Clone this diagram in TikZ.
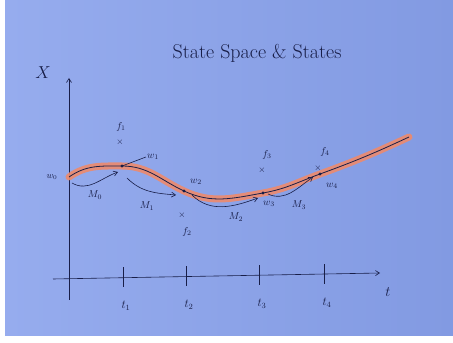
\documentclass[tikz,border=0pt]{standalone}
\usepackage{tikz}
\usetikzlibrary{arrows.meta}
\usepackage{amsmath, amsfonts}
\definecolor{paperL}{RGB}{150,172,238}
\definecolor{paperR}{RGB}{130,154,226}
\definecolor{ink}{RGB}{24,30,72}
\definecolor{glow}{RGB}{238,138,108}
\begin{document}
\begin{tikzpicture}[x=1pt, y=1pt,
    ink/.style = {draw=ink, line width=0.6pt},
    marrow/.style = {ink, -{Straight Barb[length=4pt,width=5pt]}},
    band/.style = {glow, line width=7pt, line cap=round, opacity=0.9},
    trace/.style = {ink, line width=0.8pt},
    lbl/.style = {text=ink, inner sep=1pt, font=\normalsize},
    cross/.style = {text=ink, inner sep=0pt, font=\small},
    dot/.style = {circle, fill=ink, inner sep=1.1pt}]
            % paper
            \fill[white] (0,0) rectangle (453,343);
            \shade[left color=paperL, right color=paperR] (5,7) rectangle (453,343);
            \useasboundingbox (0,0) rectangle (453,343);

            \node[text=ink, font=\fontsize{20}{24}\selectfont] (title) at (257,290) {State Space \& States};

            % axes
            \coordinate (ytop) at (69,265);
            \coordinate (ybot) at (69,43);
            \coordinate (xleft) at (53,64);
            \coordinate (xright) at (380,70);
            \draw[marrow] (ybot) -- (ytop);
            \draw[marrow] (xleft) -- (xright);
            \node[text=ink, font=\LARGE] (X) at (43,270) {$X$};
            \node[text=ink, font=\Large] (t) at (388,51) {$t$};

            % ticks
            \foreach \n/\x/\y in {1/123/67, 2/186/68, 3/259/69, 4/324/70} {
                \draw[ink] (\x,\y-11) -- (\x,\y+9);
                \node[lbl, font=\large] (t\n) at (\x+3,\y-30) {$t_\n$};
            }

            % states
            \coordinate (w0) at (69,166);
            \coordinate (w1) at (122,177);
            \coordinate (w2) at (184,152);
            \coordinate (w3) at (263,150);
            \coordinate (w4) at (320,169);
            \coordinate (e) at (409,206);

            \foreach \sty in {band, trace}
                \draw[\sty] (w0) to[out=35, in=180] (w1) to[out=0, in=155] (w2)
                    to[out=-25, in=190] (w3) to[out=10, in=200] (w4) to[out=20, in=205] (e);
            \foreach \p in {w1, w2, w3, w4} \node[dot] at (\p) {};

            \node[lbl, font=\small] (lw0) at (52,166) {$w_0$};
            \node[lbl] (lw1) at (153,186) {$w_1$};
            \draw[ink] (w1) -- (lw1.west);
            \node[lbl] (lw2) at (196,161) {$w_2$};
            \node[lbl] (lw3) at (269,139) {$w_3$};
            \node[lbl] (lw4) at (332,157) {$w_4$};

            % measurements
            \node[lbl] (f1) at (121,216) {$f_1$};
            \node[cross] (x1) at (120,201) {$\times$};
            \node[cross] (x2) at (182,128) {$\times$};
            \node[lbl] (f2) at (187,111) {$f_2$};
            \node[lbl] (f3) at (267,188) {$f_3$};
            \node[cross] (x3) at (262,173) {$\times$};
            \node[lbl] (f4) at (325,191) {$f_4$};
            \node[cross] (x4) at (318,175) {$\times$};

            % transitions
            \coordinate (m0s) at (72,160);  \coordinate (m0e) at (118,171);
            \coordinate (m1s) at (127,165); \coordinate (m1e) at (176,148);
            \coordinate (m2s) at (192,148); \coordinate (m2e) at (258,145);
            \coordinate (m3s) at (268,149); \coordinate (m3e) at (313,166);
            \draw[marrow] (m0s) to[out=-30, in=200] (m0e);
            \draw[marrow] (m1s) to[out=-45, in=175] (m1e);
            \draw[marrow] (m2s) to[out=-45, in=200] (m2e);
            \draw[marrow] (m3s) to[out=-25, in=215] (m3e);
            \node[lbl] (M0) at (95,148) {$M_0$};
            \node[lbl] (M1) at (147,137) {$M_1$};
            \node[lbl] (M2) at (236,126) {$M_2$};
            \node[lbl] (M3) at (299,138) {$M_3$};
        \end{tikzpicture}
\end{document}
